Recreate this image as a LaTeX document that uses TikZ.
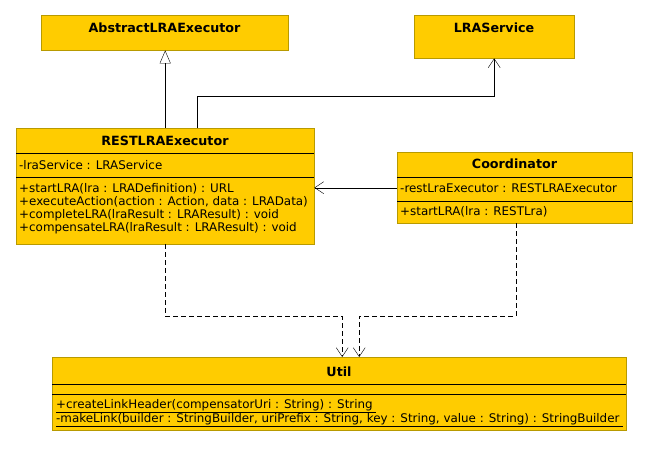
\documentclass[tikz,border=0pt]{standalone}
\usepackage{fontspec}
\setmainfont{DejaVu Sans}
\usetikzlibrary{arrows.meta}
\definecolor{classfill}{HTML}{FFCC00}
\definecolor{classedge}{HTML}{B89A00}
\tikzset{
  classbox/.style={draw=classedge, fill=classfill, anchor=north west, inner sep=0pt},
  classname/.style={font=\bfseries\fontsize{12.7}{14}\selectfont, inner sep=0pt},
  member/.style={font=\fontsize{11.9}{14}\selectfont, anchor=west, inner sep=0pt},
  sep/.style={draw=black, line width=0.7pt},
  assoc/.style={draw=black, -{Straight Barb[length=9pt, width=12pt]}},
  depend/.style={assoc, dash pattern=on 5pt off 3pt},
  inherit/.style={draw=black, -{Triangle[open, length=13pt, width=11pt]}},
}
\begin{document}
\begin{tikzpicture}[x=1pt, y=-1pt]
    \useasboundingbox[fill=white] (0,0) rectangle (648,450);
    % classes
    \node[classbox, minimum width=247pt, minimum height=35pt] (abstract) at (41,15) {};
    \node[classname] at (164.5,28) {AbstractLRAExecutor};
    \node[classbox, minimum width=160pt, minimum height=43pt] (service) at (414,15) {};
    \node[classname] at (494,28) {LRAService};
    \node[classbox, minimum width=298pt, minimum height=116pt] (rest) at (16,128) {};
    \node[classname] at (165,141) {RESTLRAExecutor};
    \draw[sep] (16,153) -- (314,153);
    \node[member] at (19,165) {-lraService : LRAService};
    \draw[sep] (16,177) -- (314,177);
    \node[member] at (19,189) {+startLRA(lra : LRADefinition) : URL};
    \node[member] at (19,202) {+executeAction(action : Action, data : LRAData)};
    \node[member] at (19,215) {+completeLRA(lraResult : LRAResult) : void};
    \node[member] at (19,228) {+compensateLRA(lraResult : LRAResult) : void};
    \node[classbox, minimum width=235pt, minimum height=71pt] (coord) at (397,152) {};
    \node[classname] at (514.5,164) {Coordinator};
    \draw[sep] (397,177) -- (632,177);
    \node[member] at (400,188) {-restLraExecutor : RESTLRAExecutor};
    \draw[sep] (397,201) -- (632,201);
    \node[member] at (400,212) {+startLRA(lra : RESTLra)};
    \node[classbox, minimum width=574pt, minimum height=73pt] (util) at (52,357) {};
    \node[classname] at (339,372) {Util};
    \draw[sep] (52,384) -- (626,384);
    \draw[sep] (52,394) -- (626,394);
    \node[member] at (56,406) {\underline{+createLinkHeader(compensatorUri : String) : String\ }};
    \node[member] at (56,420) {\underline{-makeLink(builder : StringBuilder, uriPrefix : String, key : String, value : String) : StringBuilder\ }};
    % relations
    \draw[inherit] (rest.north) -- (rest.north |- abstract.south);
    \draw[assoc] ([xshift=32pt]rest.north) -- ++(0,-32) -| (service.south);
    \draw[assoc] (coord.west) -- (coord.west -| rest.east);
    \draw[depend] (rest.south) -- ++(0,72) -| ([xshift=3pt]util.north);
    \draw[depend] ([xshift=1.5pt]coord.south) -- ++(0,93) -| ([xshift=20pt]util.north);
\end{tikzpicture}
\end{document}
